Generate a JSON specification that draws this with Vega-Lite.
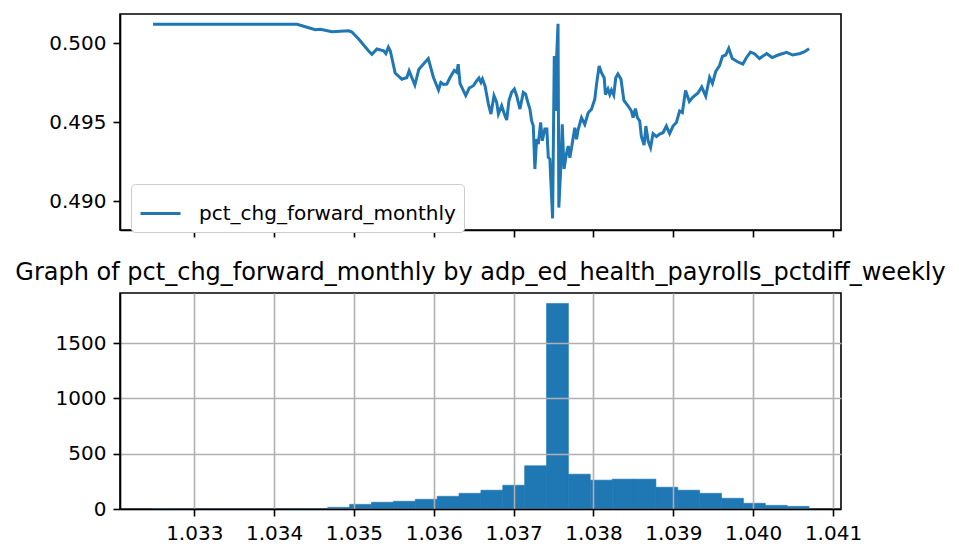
{
  "$schema": "https://vega.github.io/schema/vega-lite/v6.json",
  "padding": {"left": 14, "top": 13, "right": 5, "bottom": 5},
  "config": {
    "font": "DejaVu Sans",
    "view": {"stroke": "black", "strokeWidth": 1.6},
    "axis": {
      "domainColor": "black", "domainWidth": 1.6,
      "tickColor": "black", "tickWidth": 1.6, "tickSize": 7,
      "labelPadding": 7, "labelFontSize": 20, "labelColor": "black",
      "labelFont": "DejaVu Sans", "labelFlush": false, "labelOverlap": false,
      "gridColor": "#b0b0b0", "gridWidth": 1.6, "grid": false, "title": null
    }
  },
  "datasets": {
    "line": [
      {"x":1.032484,"y":0.501184},{"x":1.034288,"y":0.501184},{"x":1.034391,"y":0.501032},{"x":1.034516,"y":0.500842},
      {"x":1.034579,"y":0.500867},{"x":1.034725,"y":0.500715},{"x":1.034934,"y":0.500772},{"x":1.034975,"y":0.500696},
      {"x":1.035059,"y":0.500253},{"x":1.035184,"y":0.499494},{"x":1.035225,"y":0.499285},{"x":1.035288,"y":0.49962},
      {"x":1.035371,"y":0.499506},{"x":1.0354,"y":0.499335},{"x":1.035431,"y":0.499734},{"x":1.035456,"y":0.499494},
      {"x":1.035516,"y":0.498101},{"x":1.0356,"y":0.497709},{"x":1.035663,"y":0.497817},{"x":1.035691,"y":0.49824},
      {"x":1.035763,"y":0.497342},{"x":1.035813,"y":0.498342},{"x":1.035871,"y":0.498671},{"x":1.035931,"y":0.499019},
      {"x":1.035996,"y":0.497817},{"x":1.036059,"y":0.497025},{"x":1.036088,"y":0.4975},{"x":1.036121,"y":0.497373},
      {"x":1.036163,"y":0.497405},{"x":1.036204,"y":0.497817},{"x":1.036256,"y":0.498259},{"x":1.036288,"y":0.498145},
      {"x":1.036306,"y":0.498658},{"x":1.036329,"y":0.497437},{"x":1.0364,"y":0.496677},{"x":1.036444,"y":0.497152},
      {"x":1.036496,"y":0.497297},{"x":1.036538,"y":0.497614},{"x":1.036566,"y":0.497785},{"x":1.036591,"y":0.497513},
      {"x":1.036609,"y":0.497722},{"x":1.036641,"y":0.497297},{"x":1.036684,"y":0.496139},{"x":1.036716,"y":0.495506},
      {"x":1.036754,"y":0.496664},{"x":1.036788,"y":0.496247},{"x":1.036809,"y":0.495506},{"x":1.03685,"y":0.496031},
      {"x":1.036884,"y":0.495506},{"x":1.036913,"y":0.495126},{"x":1.036941,"y":0.496348},{"x":1.036975,"y":0.496879},
      {"x":1.037009,"y":0.497088},{"x":1.037038,"y":0.496664},{"x":1.037079,"y":0.495823},{"x":1.037121,"y":0.496879},
      {"x":1.03715,"y":0.496772},{"x":1.037184,"y":0.496139},{"x":1.037204,"y":0.495823},{"x":1.037225,"y":0.495082},
      {"x":1.037246,"y":0.494766},{"x":1.037266,"y":0.492025},{"x":1.037288,"y":0.493923},{"x":1.037309,"y":0.493607},
      {"x":1.037338,"y":0.49498},{"x":1.037359,"y":0.493816},{"x":1.037391,"y":0.494556},{"x":1.037416,"y":0.494556},
      {"x":1.037434,"y":0.492765},{"x":1.037454,"y":0.492658},{"x":1.037466,"y":0.491284},{"x":1.037488,"y":0.488905},
      {"x":1.037509,"y":0.499177},{"x":1.037525,"y":0.495696},{"x":1.037538,"y":0.499082},{"x":1.037556,"y":0.501222},
      {"x":1.037566,"y":0.489589},{"x":1.037588,"y":0.491899},{"x":1.037609,"y":0.494854},{"x":1.037631,"y":0.492025},
      {"x":1.037663,"y":0.493038},{"x":1.037684,"y":0.493481},{"x":1.037704,"y":0.49274},{"x":1.037725,"y":0.493354},
      {"x":1.037766,"y":0.494639},{"x":1.037788,"y":0.493905},{"x":1.037809,"y":0.494538},{"x":1.03785,"y":0.495272},
      {"x":1.037891,"y":0.494854},{"x":1.037934,"y":0.495589},{"x":1.037975,"y":0.495804},{"x":1.038016,"y":0.496437},
      {"x":1.038038,"y":0.497386},{"x":1.038071,"y":0.498544},{"x":1.0381,"y":0.49812},{"x":1.038134,"y":0.497804},
      {"x":1.03815,"y":0.49674},{"x":1.038181,"y":0.497088},{"x":1.038204,"y":0.49674},{"x":1.038225,"y":0.497025},
      {"x":1.038254,"y":0.496709},{"x":1.038279,"y":0.497804},{"x":1.038306,"y":0.498038},{"x":1.038344,"y":0.497722},
      {"x":1.038381,"y":0.496361},{"x":1.038434,"y":0.496013},{"x":1.038475,"y":0.495696},{"x":1.038496,"y":0.495285},
      {"x":1.038525,"y":0.495854},{"x":1.03855,"y":0.495285},{"x":1.038579,"y":0.495063},{"x":1.0386,"y":0.494082},
      {"x":1.038634,"y":0.493544},{"x":1.038656,"y":0.494747},{"x":1.038685,"y":0.493797},{"x":1.038715,"y":0.493386},
      {"x":1.038746,"y":0.494272},{"x":1.038788,"y":0.494082},{"x":1.038829,"y":0.494241},{"x":1.038871,"y":0.494323},
      {"x":1.038913,"y":0.494747},{"x":1.038954,"y":0.494272},{"x":1.038996,"y":0.494747},{"x":1.039038,"y":0.494968},
      {"x":1.039079,"y":0.495696},{"x":1.039113,"y":0.4956},{"x":1.039153,"y":0.496993},{"x":1.0392,"y":0.496297},
      {"x":1.039246,"y":0.496582},{"x":1.039309,"y":0.496835},{"x":1.039356,"y":0.497215},{"x":1.039406,"y":0.496646},
      {"x":1.039454,"y":0.497817},{"x":1.03949,"y":0.497437},{"x":1.039531,"y":0.498196},{"x":1.039579,"y":0.498576},
      {"x":1.039615,"y":0.499158},{"x":1.039656,"y":0.49924},{"x":1.039694,"y":0.499665},{"x":1.039738,"y":0.499019},
      {"x":1.039809,"y":0.498797},{"x":1.039871,"y":0.498671},{"x":1.039913,"y":0.499051},{"x":1.039966,"y":0.49943},
      {"x":1.040016,"y":0.499323},{"x":1.040079,"y":0.499019},{"x":1.040169,"y":0.499335},{"x":1.040238,"y":0.499082},
      {"x":1.040313,"y":0.49924},{"x":1.040419,"y":0.499411},{"x":1.040496,"y":0.49924},{"x":1.040588,"y":0.499335},
      {"x":1.040638,"y":0.49943},{"x":1.0407,"y":0.499639}
    ],
    "hist": [
      {"bin_start":1.032480,"bin_end":1.032754,"count":2},
      {"bin_start":1.032754,"bin_end":1.033028,"count":0},
      {"bin_start":1.033028,"bin_end":1.033302,"count":0},
      {"bin_start":1.033302,"bin_end":1.033576,"count":0},
      {"bin_start":1.033576,"bin_end":1.033850,"count":0},
      {"bin_start":1.033850,"bin_end":1.034124,"count":0},
      {"bin_start":1.034124,"bin_end":1.034398,"count":1},
      {"bin_start":1.034398,"bin_end":1.034672,"count":3},
      {"bin_start":1.034672,"bin_end":1.034946,"count":15},
      {"bin_start":1.034946,"bin_end":1.035220,"count":42},
      {"bin_start":1.035220,"bin_end":1.035494,"count":61},
      {"bin_start":1.035494,"bin_end":1.035768,"count":70},
      {"bin_start":1.035768,"bin_end":1.036042,"count":88},
      {"bin_start":1.036042,"bin_end":1.036316,"count":115},
      {"bin_start":1.036316,"bin_end":1.036590,"count":142},
      {"bin_start":1.036590,"bin_end":1.036864,"count":170},
      {"bin_start":1.036864,"bin_end":1.037138,"count":215},
      {"bin_start":1.037138,"bin_end":1.037412,"count":391},
      {"bin_start":1.037412,"bin_end":1.037686,"count":1860},
      {"bin_start":1.037686,"bin_end":1.037960,"count":315},
      {"bin_start":1.037960,"bin_end":1.038234,"count":261},
      {"bin_start":1.038234,"bin_end":1.038508,"count":270},
      {"bin_start":1.038508,"bin_end":1.038782,"count":270},
      {"bin_start":1.038782,"bin_end":1.039056,"count":197},
      {"bin_start":1.039056,"bin_end":1.039330,"count":170},
      {"bin_start":1.039330,"bin_end":1.039604,"count":142},
      {"bin_start":1.039604,"bin_end":1.039878,"count":97},
      {"bin_start":1.039878,"bin_end":1.040152,"count":52},
      {"bin_start":1.040152,"bin_end":1.040426,"count":33},
      {"bin_start":1.040426,"bin_end":1.040700,"count":24}
    ]
  },
  "vconcat": [
    {
      "width": 721,
      "height": 216,
      "data": {"name": "line"},
      "mark": {"type": "line", "strokeWidth": 3},
      "encoding": {
        "x": {
          "field": "x", "type": "quantitative",
          "scale": {"domain": [1.03207, 1.0411], "nice": false, "zero": false},
          "axis": {"values": [1.033, 1.034, 1.035, 1.036, 1.037, 1.038, 1.039, 1.04, 1.041], "labels": false}
        },
        "y": {
          "field": "y", "type": "quantitative",
          "scale": {"domain": [0.48817, 0.501835], "nice": false, "zero": false},
          "axis": {"values": [0.49, 0.495, 0.5], "format": ".3f"}
        },
        "color": {
          "datum": "pct_chg_forward_monthly",
          "type": "nominal",
          "scale": {"range": ["#1f77b4"]},
          "legend": {
            "title": null,
            "orient": "none",
            "legendX": 11,
            "legendY": 170,
            "symbolType": "stroke",
            "symbolSize": 1600,
            "symbolStrokeWidth": 3,
            "labelFontSize": 20,
            "labelColor": "black",
            "labelOffset": 17,
            "labelLimit": 0,
            "padding": 8,
            "strokeColor": "#cccccc",
            "fillColor": "white",
            "cornerRadius": 4
          }
        }
      }
    },
    {
      "width": 721,
      "height": 216,
      "title": {
        "text": "Graph of pct_chg_forward_monthly by adp_ed_health_payrolls_pctdiff_weekly",
        "fontSize": 24,
        "fontWeight": "normal",
        "color": "black",
        "anchor": "middle",
        "baseline": "alphabetic",
        "offset": -11
      },
      "data": {"name": "hist"},
      "mark": {"type": "rect", "color": "#1f77b4", "stroke": "#1f77b4", "strokeWidth": 0.6},
      "encoding": {
        "x": {
          "field": "bin_start", "type": "quantitative",
          "scale": {"domain": [1.03207, 1.0411], "nice": false, "zero": false},
          "axis": {"values": [1.033, 1.034, 1.035, 1.036, 1.037, 1.038, 1.039, 1.04, 1.041], "format": ".3f", "grid": true, "zindex": 1}
        },
        "x2": {"field": "bin_end"},
        "y": {
          "field": "count", "type": "quantitative",
          "scale": {"domain": [0, 1954], "nice": false},
          "axis": {"values": [0, 500, 1000, 1500], "format": "d", "grid": true, "zindex": 1}
        },
        "y2": {"datum": 0}
      }
    }
  ],
  "bounds": "flush",
  "spacing": 63,
  "resolve": {"legend": {"color": "independent"}, "scale": {"x": "independent"}}
}
